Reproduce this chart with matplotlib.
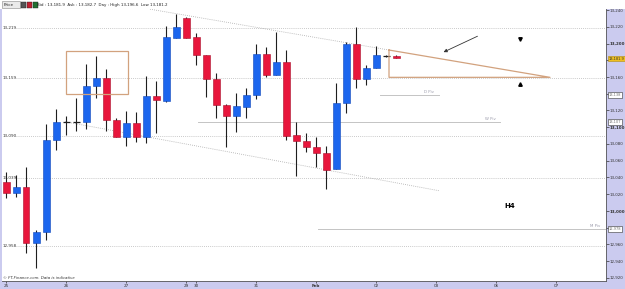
import matplotlib
matplotlib.use('Agg')
import matplotlib.pyplot as plt
import numpy as np
from matplotlib.patches import Rectangle

# H4 candles, 25 Jan -> 02 Feb (one entry per 4h bar)
opens = [13035.0, 13021.1, 13029.0, 12961.4, 12974.6, 13084.8, 13106.6, 13106.6,
         13106.6, 13149.3, 13158.4, 13108.7, 13088.7, 13105.4, 13088.7, 13137.3,
         13131.7, 13206.2, 13230.1, 13207.4, 13186.3, 13157.3, 13126.6, 13113.4,
         13124.5, 13138.5, 13187.5, 13162.4, 13178.3, 13090.7, 13083.9, 13076.1,
         13069.6, 13049.8, 13128.6, 13199.0, 13157.3, 13170.4, 13185.4, 13185.1]
highs = [13046.9, 13043.0, 13052.9, 12977.3, 13103.9, 13121.4, 13113.4, 13134.6,
         13175.5, 13185.1, 13169.2, 13111.0, 13119.8, 13118.6, 13161.2, 13155.6,
         13220.9, 13235.2, 13232.0, 13212.2, 13186.3, 13165.1, 13127.8, 13140.5,
         13146.5, 13199.4, 13196.2, 13214.1, 13192.2, 13106.6, 13093.5, 13088.0,
         13077.6, 13152.5, 13202.2, 13219.3, 13174.3, 13197.0, 13186.3, 13185.7]
lows = [13015.5, 13017.1, 12949.5, 12931.6, 12965.4, 13072.8, 13090.7, 13095.9,
        13097.6, 13135.3, 13095.9, 13088.7, 13077.6, 13082.7, 13080.8, 13093.5,
        13130.5, 13206.2, 13206.2, 13174.3, 13136.5, 13110.7, 13076.8, 13094.0,
        13110.7, 13133.4, 13160.4, 13162.4, 13084.8, 13041.8, 13070.8, 13052.9,
        13025.9, 13049.8, 13117.4, 13146.5, 13150.4, 13170.4, 13183.9, 13182.7]
closes = [13021.1, 13029.0, 12961.4, 12974.6, 13084.8, 13106.6, 13106.6, 13106.6,
          13149.3, 13158.4, 13108.7, 13088.7, 13105.4, 13088.7, 13137.3, 13132.5,
          13207.4, 13219.3, 13206.2, 13186.3, 13157.6, 13126.6, 13113.4, 13125.4,
          13138.5, 13187.5, 13162.4, 13178.3, 13089.6, 13083.9, 13076.1, 13069.6,
          13049.0, 13128.6, 13199.0, 13157.3, 13171.1, 13186.3, 13185.4, 13183.0]

day_labels = ['25', '26', '27', '29', '30', '31', 'Feb', '02', '03', '06', '07']
day_starts = [0, 6, 12, 18, 19, 25, 31, 37, 43, 49, 55]

price_ticks = list(range(12920, 13241, 20))
bold_ticks = [13000, 13100, 13200]
hidden_ticks = [12980, 13140, 13180]   # covered by the price tags

level_values = [13219, 13159, 13090, 13039, 12958]
level_labels = ['13,219', '13,159', '13,090', '13,039', '12,958']

pivot_names = ['D Piv', 'W Piv', 'M Piv']
pivot_values = [13138.5, 13106.5, 12978.5]
pivot_tags = ['13,138', '13,107', '12,978']

bid, ask = 13181.9, 13182.7
day_high, day_low = 13196.6, 13181.2

BAND = '#CBCBEF'
BLUE, BLUE_EDGE = '#1C66EE', '#0E46B8'
RED, RED_EDGE = '#E8163C', '#A80E2A'
TAN = '#D2A27E'


def main():
    W, H = 625, 289
    fig = plt.figure(figsize=(W / 100, H / 100), dpi=100)
    fig.patch.set_facecolor(BAND)
    # white header strip
    fig.patches.append(Rectangle((0, 1 - 9 / H), 1, 9 / H, transform=fig.transFigure,
                                 facecolor='white', edgecolor='none', zorder=0))
    ax = fig.add_axes([2 / W, 1 - 281 / H, 604 / W, 272 / H])
    ax.set_facecolor('white')
    ax.set_xlim(-0.4, 60)
    ax.set_ylim(12916.4, 13241.2)

    o = np.array(opens)
    c = np.array(closes)
    x = np.arange(len(o))

    # dotted levels
    for v, lab in zip(level_values, level_labels):
        ax.plot([1.0, 60], [v, v], color='#B8B8B8', lw=0.6, ls=(0, (1, 1.5)), zorder=1)
        ax.text(-0.3, v, lab, fontsize=3, color='#333333', va='center', ha='left', zorder=1)

    # trend lines
    ax.plot([14.4, 38.3], [13241, 13192.2], color='#AAAAAA', lw=0.6, ls=(0, (1, 1.5)), zorder=1)
    ax.plot([5.9, 43.3], [13106.6, 13024.2], color='#AAAAAA', lw=0.6, ls=(0, (1, 1.5)), zorder=1)

    # pivot lines
    spans = [(37.4, 43.3), (19.2, 49.4), (31.2, 60)]
    label_x = [42.3, 48.4, 58.9]
    for (a, b), v, name, lx in zip(spans, pivot_values, pivot_names, label_x):
        ax.plot([a, b], [v, v], color='#C4C4C4', lw=0.7, zorder=1)
        ax.text(lx, v + 1.5, name, fontsize=2.8, color='#9A9AAA', ha='center', va='bottom')

    # candles
    ax.vlines(x, lows, highs, color='#1E1E1E', lw=0.8, zorder=2)
    up = c > o
    dn = c < o
    flat = c == o
    ax.bar(x[up], (c - o)[up], bottom=o[up], width=0.7, color=BLUE,
           edgecolor=BLUE_EDGE, lw=0.4, zorder=3)
    ax.bar(x[dn], (o - c)[dn], bottom=c[dn], width=0.7, color=RED,
           edgecolor=RED_EDGE, lw=0.4, zorder=3)
    ax.hlines(o[flat], x[flat] - 0.35, x[flat] + 0.35, color='#1E1E1E', lw=0.9, zorder=3)

    # drawings
    ax.add_patch(Rectangle((6.0, 13139.7), 6.17, 51.7, fill=False, edgecolor=TAN, lw=0.9, zorder=4))
    ax.plot([38.3, 38.3, 54.4, 38.3], [13192.2, 13159.6, 13159.6, 13192.2],
            color=TAN, lw=0.9, zorder=4)
    ax.annotate('', xy=(43.5, 13188.3), xytext=(47.4, 13210.1),
                arrowprops=dict(arrowstyle='-|>', color='#333333', lw=0.6,
                                mutation_scale=5), zorder=5)
    ax.plot([51.4], [13205], marker='v', color='black', ms=2.5, zorder=5)
    ax.plot([51.4], [13151.6], marker='^', color='black', ms=2.5, zorder=5)
    ax.text(50.4, 13006, 'H4', fontsize=5, fontweight='bold', ha='center', va='center')
    ax.text(0.002, 0.004, '\u00a9 FT-Finance.com. Data is indicative', transform=ax.transAxes,
            fontsize=2.8, style='italic', color='#333333', ha='left', va='bottom')

    # axes styling
    for s in ['left', 'top']:
        ax.spines[s].set_visible(False)
    for s in ['right', 'bottom']:
        ax.spines[s].set_color('#555555')
        ax.spines[s].set_linewidth(0.6)

    ax.yaxis.tick_right()
    ax.set_yticks(price_ticks)
    ax.set_yticklabels(['' if v in hidden_ticks else f'{v:,}' for v in price_ticks])
    ax.tick_params(axis='y', length=2, width=0.5, labelsize=2.9, pad=0.8,
                   colors='#333333')
    for t, v in zip(ax.get_yticklabels(), price_ticks):
        if v in bold_ticks:
            t.set_fontweight('bold')

    ax.set_xticks(day_starts)
    ax.set_xticklabels(day_labels)
    ax.tick_params(axis='x', length=1.5, width=0.5, labelsize=3, pad=1,
                   colors='#333333')
    for t, lab in zip(ax.get_xticklabels(), day_labels):
        if lab == 'Feb':
            t.set_fontweight('bold')

    # price tags on the right axis
    tx = ax.get_yaxis_transform()
    for v, tag in zip(pivot_values, pivot_tags):
        ax.text(1.0045, v, tag, transform=tx, fontsize=2.6, color='#777777',
                ha='left', va='center', clip_on=False, zorder=6,
                bbox=dict(boxstyle='square,pad=0.2', facecolor='white',
                          edgecolor='#333333', lw=0.4))
    ax.text(1.0045, bid, f'{bid:,.1f}', transform=tx, fontsize=2.6, color='#333333',
            ha='left', va='center', clip_on=False, zorder=6,
            bbox=dict(boxstyle='square,pad=0.2', facecolor='#F0C020',
                      edgecolor='#B08A10', lw=0.4))

    # header
    fig.patches.append(Rectangle((2 / W, 1 - 8 / H), 18 / W, 7 / H, transform=fig.transFigure,
                                 facecolor='#EAEAEA', edgecolor='#888888', lw=0.4))
    fig.text(4 / W, 1 - 4.6 / H, 'Price', fontsize=3, color='#222222', va='center')
    for i, col in enumerate(['#555555', '#C02030', '#207030']):
        fig.patches.append(Rectangle(((21 + i * 6) / W, 1 - 8 / H), 5 / W, 6 / H,
                                     transform=fig.transFigure, facecolor=col,
                                     edgecolor='#222222', lw=0.3))
    head = (f'Bid : {bid:,.1f}  Ask : {ask:,.1f}  Day : High {day_high:,.1f}  '
            f'Low {day_low:,.1f}')
    fig.text(37 / W, 1 - 4.6 / H, head, fontsize=2.9, color='#222222', va='center')

    fig.savefig('out.png', dpi=100, facecolor=fig.get_facecolor())


if __name__ == '__main__':
    main()
